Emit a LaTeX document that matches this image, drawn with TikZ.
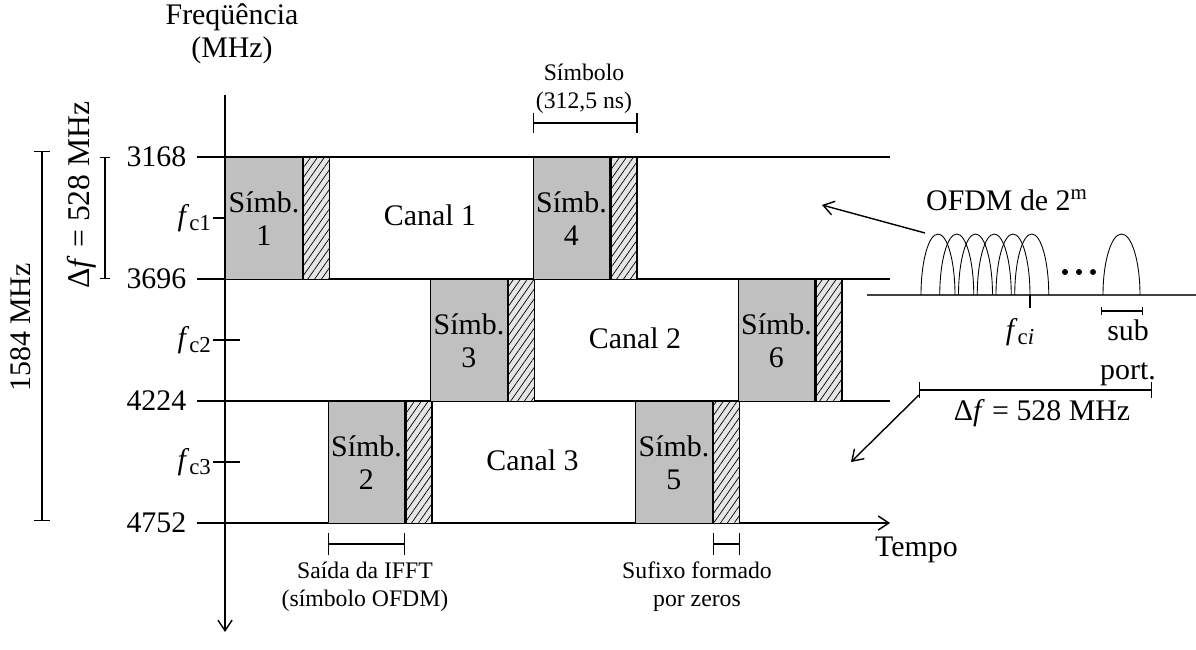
\documentclass[tikz,border=0pt]{standalone}
\usepackage{fontspec}
\setmainfont{Liberation Serif}
\usetikzlibrary{positioning,arrows.meta,patterns.meta}
\definecolor{simbGray}{HTML}{C0C0C0}
\definecolor{sufGray}{HTML}{E6E6E6}
\newcommand{\freqc}[1]{\textit{f}\raisebox{-0.4ex}{\fontsize{13}{13}\selectfont #1}}

\begin{document}
\begin{tikzpicture}[
    font=\fontsize{17}{19}\selectfont,
    >={Straight Barb[length=6pt,width=8pt]},
    axis/.style={line width=0.8pt},
    simb/.style={draw, line width=0.8pt, fill=simbGray, minimum width=1.53cm, minimum height=2.44cm, inner sep=0pt, align=center, anchor=north west},
    suf/.style={draw, line width=0.8pt, fill=sufGray, minimum width=0.52cm, minimum height=2.44cm, inner sep=0pt,
      postaction={pattern={Lines[angle=55,distance=3.2pt,line width=0.4pt]}}},
    brk/.style={line width=0.8pt, {Bar[width=11pt]}-{Bar[width=11pt]}},
    small/.style={font=\fontsize{13.5}{16}\selectfont, align=center, inner sep=1pt}
  ]
    \useasboundingbox (0,0) rectangle (23.92,-13);

    \node[align=center] (freq) at (4.64,-0.68) {Freqüência\\(MHz)};
    \draw[axis,->] (4.5,-1.9) -- (4.5,-12.64);

    \draw[axis] (3.94,-3.14) -- (17.8,-3.14);
    \draw[axis] (3.94,-5.58) -- (17.8,-5.58);
    \draw[axis] (3.94,-8.02) -- (17.8,-8.02);
    \draw[axis,->] (3.94,-10.46) -- (17.8,-10.46);

    \node[anchor=east] (f3168) at (3.85,-3.14) {3168};
    \node[anchor=east] (f3696) at (3.85,-5.58) {3696};
    \node[anchor=east] (f4224) at (3.85,-8.02) {4224};
    \node[anchor=east] (f4752) at (3.85,-10.46) {4752};
    \node[anchor=west] (tempo) at (17.38,-11.0) {Tempo};

    \foreach \i/\y in {1/-4.36, 2/-6.8, 3/-9.24}{
      \draw[axis] (4.26,\y) -- (4.8,\y);
      \node[anchor=east, inner sep=1pt] (fc\i) at (4.26,\y) {\freqc{c\i}};
    }

    \foreach \n/\x/\y in {1/4.5/-3.14, 2/6.55/-8.02, 3/8.6/-5.58, 4/10.65/-3.14, 5/12.7/-8.02, 6/14.75/-5.58}{
      \node[simb] (s\n) at (\x,\y) {Símb.\\\n};
      \node[suf, anchor=west] (z\n) at (s\n.east) {};
    }

    \node (canal1) at (8.6,-4.3) {Canal 1};
    \node (canal2) at (12.7,-6.76) {Canal 2};
    \node (canal3) at (10.65,-9.2) {Canal 3};

    \draw[line width=0.8pt, {Bar[width=6pt]}-{Bar[width=6pt]}] (2.1,-3.14) -- (2.1,-5.58);
    \node[rotate=90, font=\fontsize{18}{20}\selectfont] (dfv) at (1.64,-3.9) {Δ\textit{f} = 528 MHz};
    \draw[line width=0.8pt, {Bar[width=9pt]}-{Bar[width=9pt]}] (0.84,-3.02) -- (0.84,-10.42);
    \node[rotate=90] (banda) at (0.42,-6.55) {1584 MHz};

    \draw[brk] (s4.north west |- 0,-2.46) -- (z4.north east |- 0,-2.46);
    \node[small, above=4pt] (simbolo) at (11.68,-2.46) {Símbolo\\(312,5 ns)};
    \draw[brk, {Bar[width=13pt]}-{Bar[width=13pt]}] (s2.south west |- 0,-10.88) -- (s2.south east |- 0,-10.88);
    \node[small, below=9pt] (ifft) at (7.3,-10.88) {Saída da IFFT\\(símbolo OFDM)};
    \draw[brk, {Bar[width=13pt]}-{Bar[width=13pt]}] (z5.south west |- 0,-10.88) -- (z5.south east |- 0,-10.88);
    \node[small, below=9pt] (sufixo) at (13.94,-10.88) {Sufixo formado\\por zeros};

    \draw[line width=0.6pt, black!75] (17.34,-5.9) -- (23.92,-5.9);
    \foreach \k in {0,...,5}
      \draw[line width=0.5pt] (18.42+\k*0.375,-5.9) arc[start angle=180, end angle=0, x radius=0.34, y radius=1.22];
    \draw[line width=0.5pt] (22.06,-5.9) arc[start angle=180, end angle=0, x radius=0.37, y radius=1.22];
    \foreach \d in {21.3,21.58,21.86}
      \fill (\d,-5.44) circle (0.06);
    \node (ofdm) at (20.14,-4.0) {OFDM de 2\textsuperscript{m}};
    \draw[line width=0.6pt] (20.6,-5.9) -- (20.6,-6.16);
    \node (fci) at (20.4,-6.64) {\freqc{c\textit{i}}};
    \draw[line width=0.8pt, {Bar[width=5pt]}-{Bar[width=5pt]}] (22.02,-6.22) -- (22.86,-6.22);
    \node[align=center, inner sep=1pt, anchor=north] (sub) at (22.56,-6.36) {sub\\[3pt]port.};
    \draw[line width=0.8pt, {Bar[width=9pt]}-{Bar[width=9pt]}] (18.38,-7.8) -- (23.04,-7.8);
    \node (dfh) at (20.84,-8.26) {Δ\textit{f} = 528 MHz};

    \coordinate (ofdmA) at (18.5,-4.66);
    \coordinate (canalA) at (16.44,-4.1);
    \coordinate (ofdmB) at (18.38,-7.9);
    \coordinate (canalB) at (17.02,-9.24);
    \draw[line width=0.8pt, ->] (ofdmA) -- (canalA);
    \draw[line width=0.8pt, ->] (ofdmB) -- (canalB);
  \end{tikzpicture}
\end{document}
